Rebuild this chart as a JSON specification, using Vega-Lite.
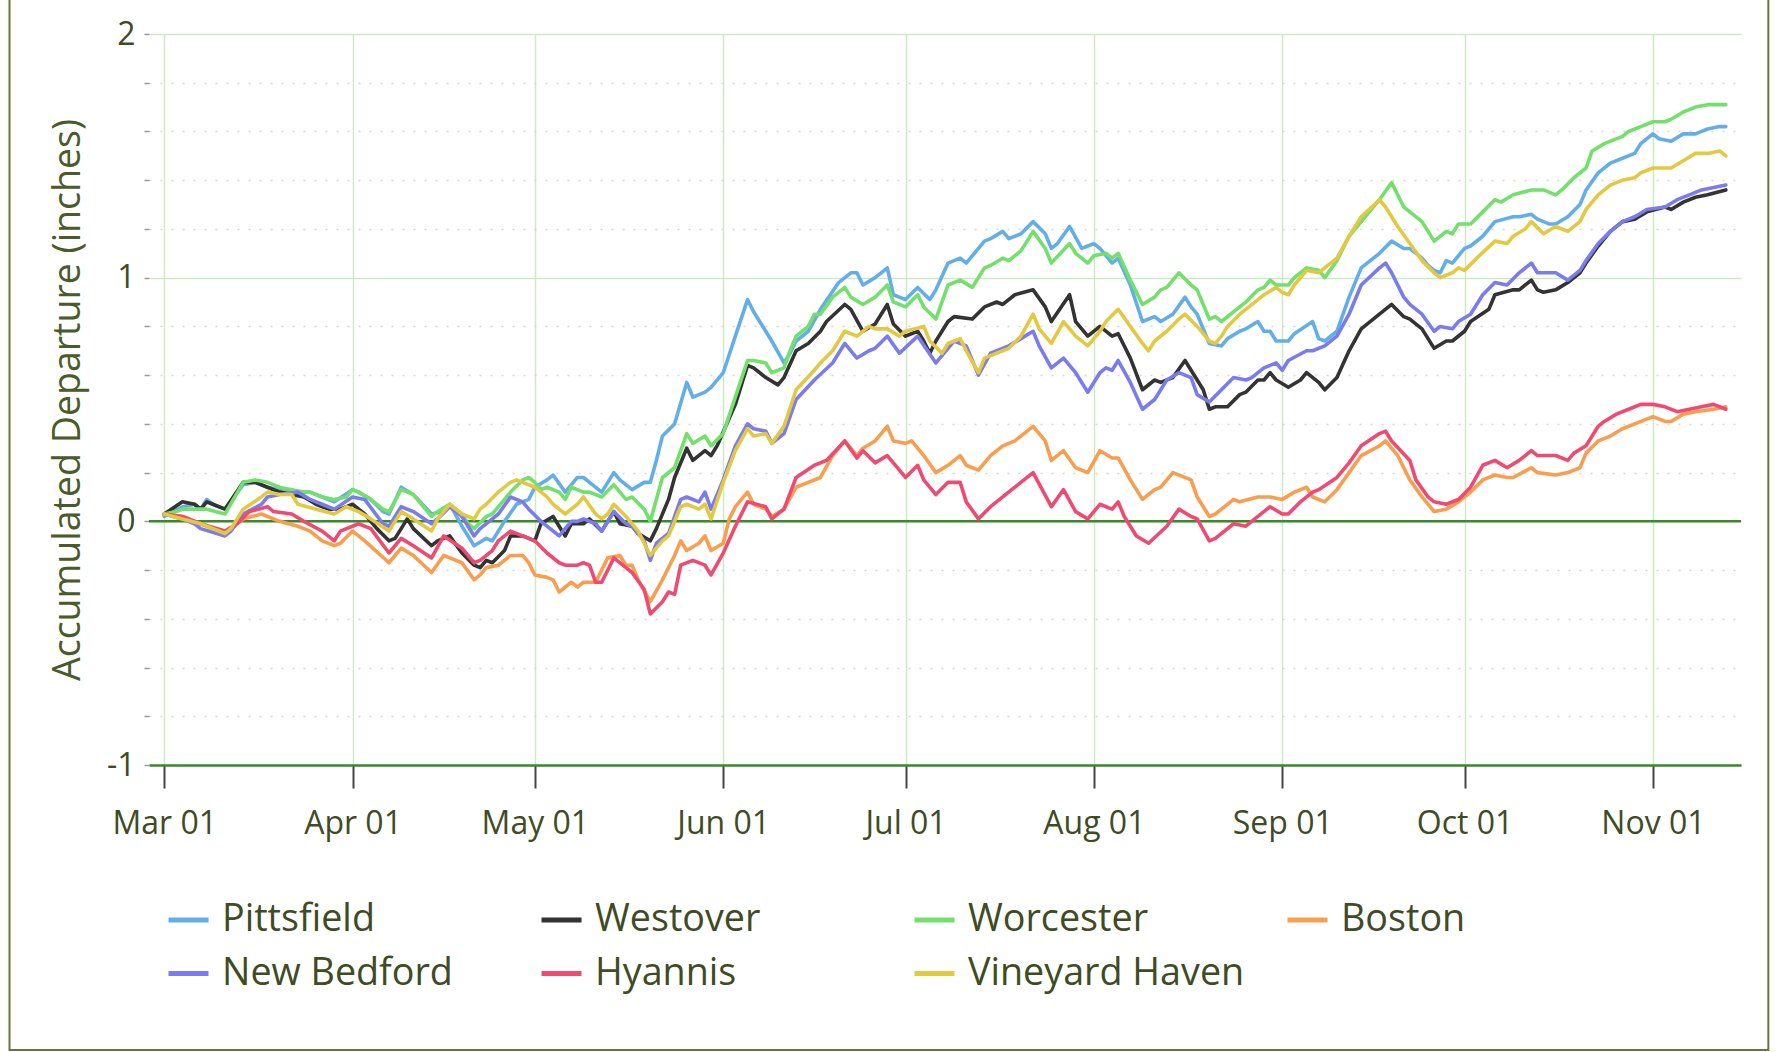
{
"$schema":"https://vega.github.io/schema/vega-lite/v6.json",
"width":1592,"height":731,
"autosize":{"type":"none"},
"padding":{"left":149,"top":34,"right":36,"bottom":287},
"background":"white",
"config":{"view":{"stroke":null},"font":"Open Sans"},
"data":{"values":[
{"station":"Pittsfield","date":"2023-03-01","value":0.02},{"station":"Pittsfield","date":"2023-03-04","value":0.06},{"station":"Pittsfield","date":"2023-03-06","value":0.07},{"station":"Pittsfield","date":"2023-03-07","value":0.05},{"station":"Pittsfield","date":"2023-03-08","value":0.09},{"station":"Pittsfield","date":"2023-03-09","value":0.07},{"station":"Pittsfield","date":"2023-03-11","value":0.05},{"station":"Pittsfield","date":"2023-03-14","value":0.15},{"station":"Pittsfield","date":"2023-03-16","value":0.16},{"station":"Pittsfield","date":"2023-03-18","value":0.14},{"station":"Pittsfield","date":"2023-03-20","value":0.13},{"station":"Pittsfield","date":"2023-03-22","value":0.12},{"station":"Pittsfield","date":"2023-03-25","value":0.12},{"station":"Pittsfield","date":"2023-03-27","value":0.10},{"station":"Pittsfield","date":"2023-03-29","value":0.08},{"station":"Pittsfield","date":"2023-04-01","value":0.13},{"station":"Pittsfield","date":"2023-04-02","value":0.12},{"station":"Pittsfield","date":"2023-04-04","value":0.09},{"station":"Pittsfield","date":"2023-04-06","value":0.04},{"station":"Pittsfield","date":"2023-04-07","value":0.03},{"station":"Pittsfield","date":"2023-04-09","value":0.14},{"station":"Pittsfield","date":"2023-04-11","value":0.11},{"station":"Pittsfield","date":"2023-04-14","value":0.03},{"station":"Pittsfield","date":"2023-04-16","value":0.04},{"station":"Pittsfield","date":"2023-04-17","value":0.07},{"station":"Pittsfield","date":"2023-04-19","value":-0.02},{"station":"Pittsfield","date":"2023-04-21","value":-0.10},{"station":"Pittsfield","date":"2023-04-23","value":-0.07},{"station":"Pittsfield","date":"2023-04-24","value":-0.08},{"station":"Pittsfield","date":"2023-04-26","value":0.00},{"station":"Pittsfield","date":"2023-04-28","value":0.07},{"station":"Pittsfield","date":"2023-04-30","value":0.09},{"station":"Pittsfield","date":"2023-05-01","value":0.14},{"station":"Pittsfield","date":"2023-05-03","value":0.17},{"station":"Pittsfield","date":"2023-05-04","value":0.19},{"station":"Pittsfield","date":"2023-05-06","value":0.12},{"station":"Pittsfield","date":"2023-05-08","value":0.18},{"station":"Pittsfield","date":"2023-05-09","value":0.18},{"station":"Pittsfield","date":"2023-05-10","value":0.16},{"station":"Pittsfield","date":"2023-05-12","value":0.12},{"station":"Pittsfield","date":"2023-05-14","value":0.20},{"station":"Pittsfield","date":"2023-05-15","value":0.17},{"station":"Pittsfield","date":"2023-05-17","value":0.13},{"station":"Pittsfield","date":"2023-05-19","value":0.16},{"station":"Pittsfield","date":"2023-05-20","value":0.16},{"station":"Pittsfield","date":"2023-05-21","value":0.25},{"station":"Pittsfield","date":"2023-05-22","value":0.35},{"station":"Pittsfield","date":"2023-05-24","value":0.40},{"station":"Pittsfield","date":"2023-05-26","value":0.57},{"station":"Pittsfield","date":"2023-05-27","value":0.51},{"station":"Pittsfield","date":"2023-05-29","value":0.53},{"station":"Pittsfield","date":"2023-05-30","value":0.55},{"station":"Pittsfield","date":"2023-06-01","value":0.61},{"station":"Pittsfield","date":"2023-06-03","value":0.76},{"station":"Pittsfield","date":"2023-06-05","value":0.91},{"station":"Pittsfield","date":"2023-06-06","value":0.86},{"station":"Pittsfield","date":"2023-06-07","value":0.82},{"station":"Pittsfield","date":"2023-06-09","value":0.74},{"station":"Pittsfield","date":"2023-06-11","value":0.65},{"station":"Pittsfield","date":"2023-06-12","value":0.69},{"station":"Pittsfield","date":"2023-06-13","value":0.74},{"station":"Pittsfield","date":"2023-06-15","value":0.78},{"station":"Pittsfield","date":"2023-06-17","value":0.87},{"station":"Pittsfield","date":"2023-06-20","value":0.98},{"station":"Pittsfield","date":"2023-06-22","value":1.02},{"station":"Pittsfield","date":"2023-06-23","value":1.02},{"station":"Pittsfield","date":"2023-06-24","value":0.97},{"station":"Pittsfield","date":"2023-06-26","value":1.00},{"station":"Pittsfield","date":"2023-06-27","value":1.02},{"station":"Pittsfield","date":"2023-06-28","value":1.04},{"station":"Pittsfield","date":"2023-06-29","value":0.93},{"station":"Pittsfield","date":"2023-07-01","value":0.91},{"station":"Pittsfield","date":"2023-07-03","value":0.96},{"station":"Pittsfield","date":"2023-07-05","value":0.91},{"station":"Pittsfield","date":"2023-07-06","value":0.95},{"station":"Pittsfield","date":"2023-07-08","value":1.06},{"station":"Pittsfield","date":"2023-07-10","value":1.08},{"station":"Pittsfield","date":"2023-07-11","value":1.06},{"station":"Pittsfield","date":"2023-07-14","value":1.15},{"station":"Pittsfield","date":"2023-07-15","value":1.16},{"station":"Pittsfield","date":"2023-07-17","value":1.19},{"station":"Pittsfield","date":"2023-07-18","value":1.16},{"station":"Pittsfield","date":"2023-07-20","value":1.18},{"station":"Pittsfield","date":"2023-07-22","value":1.23},{"station":"Pittsfield","date":"2023-07-24","value":1.18},{"station":"Pittsfield","date":"2023-07-25","value":1.12},{"station":"Pittsfield","date":"2023-07-26","value":1.14},{"station":"Pittsfield","date":"2023-07-28","value":1.21},{"station":"Pittsfield","date":"2023-07-30","value":1.12},{"station":"Pittsfield","date":"2023-07-31","value":1.13},{"station":"Pittsfield","date":"2023-08-01","value":1.14},{"station":"Pittsfield","date":"2023-08-02","value":1.12},{"station":"Pittsfield","date":"2023-08-04","value":1.06},{"station":"Pittsfield","date":"2023-08-05","value":1.08},{"station":"Pittsfield","date":"2023-08-07","value":0.97},{"station":"Pittsfield","date":"2023-08-09","value":0.82},{"station":"Pittsfield","date":"2023-08-11","value":0.84},{"station":"Pittsfield","date":"2023-08-12","value":0.82},{"station":"Pittsfield","date":"2023-08-14","value":0.85},{"station":"Pittsfield","date":"2023-08-16","value":0.92},{"station":"Pittsfield","date":"2023-08-17","value":0.88},{"station":"Pittsfield","date":"2023-08-18","value":0.85},{"station":"Pittsfield","date":"2023-08-20","value":0.73},{"station":"Pittsfield","date":"2023-08-22","value":0.72},{"station":"Pittsfield","date":"2023-08-23","value":0.75},{"station":"Pittsfield","date":"2023-08-25","value":0.78},{"station":"Pittsfield","date":"2023-08-26","value":0.79},{"station":"Pittsfield","date":"2023-08-28","value":0.82},{"station":"Pittsfield","date":"2023-08-29","value":0.78},{"station":"Pittsfield","date":"2023-08-30","value":0.78},{"station":"Pittsfield","date":"2023-08-31","value":0.74},{"station":"Pittsfield","date":"2023-09-02","value":0.74},{"station":"Pittsfield","date":"2023-09-03","value":0.77},{"station":"Pittsfield","date":"2023-09-06","value":0.82},{"station":"Pittsfield","date":"2023-09-07","value":0.75},{"station":"Pittsfield","date":"2023-09-08","value":0.74},{"station":"Pittsfield","date":"2023-09-10","value":0.78},{"station":"Pittsfield","date":"2023-09-12","value":0.92},{"station":"Pittsfield","date":"2023-09-14","value":1.04},{"station":"Pittsfield","date":"2023-09-17","value":1.10},{"station":"Pittsfield","date":"2023-09-19","value":1.15},{"station":"Pittsfield","date":"2023-09-21","value":1.12},{"station":"Pittsfield","date":"2023-09-22","value":1.12},{"station":"Pittsfield","date":"2023-09-24","value":1.08},{"station":"Pittsfield","date":"2023-09-25","value":1.05},{"station":"Pittsfield","date":"2023-09-26","value":1.03},{"station":"Pittsfield","date":"2023-09-27","value":1.02},{"station":"Pittsfield","date":"2023-09-28","value":1.07},{"station":"Pittsfield","date":"2023-09-29","value":1.06},{"station":"Pittsfield","date":"2023-10-01","value":1.12},{"station":"Pittsfield","date":"2023-10-02","value":1.13},{"station":"Pittsfield","date":"2023-10-04","value":1.17},{"station":"Pittsfield","date":"2023-10-06","value":1.23},{"station":"Pittsfield","date":"2023-10-09","value":1.25},{"station":"Pittsfield","date":"2023-10-10","value":1.25},{"station":"Pittsfield","date":"2023-10-12","value":1.26},{"station":"Pittsfield","date":"2023-10-13","value":1.24},{"station":"Pittsfield","date":"2023-10-15","value":1.22},{"station":"Pittsfield","date":"2023-10-16","value":1.22},{"station":"Pittsfield","date":"2023-10-18","value":1.25},{"station":"Pittsfield","date":"2023-10-20","value":1.30},{"station":"Pittsfield","date":"2023-10-21","value":1.36},{"station":"Pittsfield","date":"2023-10-23","value":1.43},{"station":"Pittsfield","date":"2023-10-25","value":1.47},{"station":"Pittsfield","date":"2023-10-27","value":1.49},{"station":"Pittsfield","date":"2023-10-29","value":1.51},{"station":"Pittsfield","date":"2023-10-30","value":1.55},{"station":"Pittsfield","date":"2023-11-01","value":1.59},{"station":"Pittsfield","date":"2023-11-02","value":1.57},{"station":"Pittsfield","date":"2023-11-04","value":1.56},{"station":"Pittsfield","date":"2023-11-06","value":1.59},{"station":"Pittsfield","date":"2023-11-08","value":1.59},{"station":"Pittsfield","date":"2023-11-10","value":1.61},{"station":"Pittsfield","date":"2023-11-12","value":1.62},{"station":"Pittsfield","date":"2023-11-13","value":1.62},
{"station":"Westover","date":"2023-03-01","value":0.03},{"station":"Westover","date":"2023-03-04","value":0.08},{"station":"Westover","date":"2023-03-06","value":0.07},{"station":"Westover","date":"2023-03-07","value":0.05},{"station":"Westover","date":"2023-03-08","value":0.08},{"station":"Westover","date":"2023-03-09","value":0.07},{"station":"Westover","date":"2023-03-11","value":0.05},{"station":"Westover","date":"2023-03-14","value":0.16},{"station":"Westover","date":"2023-03-16","value":0.16},{"station":"Westover","date":"2023-03-18","value":0.14},{"station":"Westover","date":"2023-03-20","value":0.12},{"station":"Westover","date":"2023-03-22","value":0.11},{"station":"Westover","date":"2023-03-24","value":0.10},{"station":"Westover","date":"2023-03-26","value":0.07},{"station":"Westover","date":"2023-03-28","value":0.05},{"station":"Westover","date":"2023-03-30","value":0.05},{"station":"Westover","date":"2023-04-01","value":0.07},{"station":"Westover","date":"2023-04-03","value":0.03},{"station":"Westover","date":"2023-04-05","value":-0.03},{"station":"Westover","date":"2023-04-07","value":-0.08},{"station":"Westover","date":"2023-04-08","value":-0.07},{"station":"Westover","date":"2023-04-10","value":0.01},{"station":"Westover","date":"2023-04-11","value":-0.03},{"station":"Westover","date":"2023-04-14","value":-0.10},{"station":"Westover","date":"2023-04-15","value":-0.08},{"station":"Westover","date":"2023-04-17","value":-0.06},{"station":"Westover","date":"2023-04-19","value":-0.13},{"station":"Westover","date":"2023-04-21","value":-0.18},{"station":"Westover","date":"2023-04-22","value":-0.19},{"station":"Westover","date":"2023-04-23","value":-0.16},{"station":"Westover","date":"2023-04-24","value":-0.17},{"station":"Westover","date":"2023-04-26","value":-0.12},{"station":"Westover","date":"2023-04-27","value":-0.06},{"station":"Westover","date":"2023-04-29","value":-0.06},{"station":"Westover","date":"2023-05-01","value":-0.08},{"station":"Westover","date":"2023-05-02","value":-0.01},{"station":"Westover","date":"2023-05-04","value":0.02},{"station":"Westover","date":"2023-05-05","value":-0.02},{"station":"Westover","date":"2023-05-06","value":-0.06},{"station":"Westover","date":"2023-05-07","value":-0.01},{"station":"Westover","date":"2023-05-09","value":-0.01},{"station":"Westover","date":"2023-05-10","value":0.01},{"station":"Westover","date":"2023-05-12","value":-0.04},{"station":"Westover","date":"2023-05-14","value":0.04},{"station":"Westover","date":"2023-05-15","value":-0.01},{"station":"Westover","date":"2023-05-17","value":-0.02},{"station":"Westover","date":"2023-05-18","value":-0.05},{"station":"Westover","date":"2023-05-20","value":-0.08},{"station":"Westover","date":"2023-05-21","value":-0.03},{"station":"Westover","date":"2023-05-23","value":0.09},{"station":"Westover","date":"2023-05-24","value":0.18},{"station":"Westover","date":"2023-05-26","value":0.30},{"station":"Westover","date":"2023-05-27","value":0.25},{"station":"Westover","date":"2023-05-29","value":0.29},{"station":"Westover","date":"2023-05-30","value":0.27},{"station":"Westover","date":"2023-05-31","value":0.31},{"station":"Westover","date":"2023-06-03","value":0.48},{"station":"Westover","date":"2023-06-05","value":0.64},{"station":"Westover","date":"2023-06-06","value":0.63},{"station":"Westover","date":"2023-06-08","value":0.59},{"station":"Westover","date":"2023-06-10","value":0.56},{"station":"Westover","date":"2023-06-11","value":0.59},{"station":"Westover","date":"2023-06-13","value":0.70},{"station":"Westover","date":"2023-06-15","value":0.73},{"station":"Westover","date":"2023-06-17","value":0.78},{"station":"Westover","date":"2023-06-18","value":0.82},{"station":"Westover","date":"2023-06-21","value":0.89},{"station":"Westover","date":"2023-06-22","value":0.87},{"station":"Westover","date":"2023-06-24","value":0.78},{"station":"Westover","date":"2023-06-26","value":0.81},{"station":"Westover","date":"2023-06-28","value":0.89},{"station":"Westover","date":"2023-06-29","value":0.81},{"station":"Westover","date":"2023-07-01","value":0.76},{"station":"Westover","date":"2023-07-03","value":0.78},{"station":"Westover","date":"2023-07-04","value":0.74},{"station":"Westover","date":"2023-07-05","value":0.69},{"station":"Westover","date":"2023-07-06","value":0.74},{"station":"Westover","date":"2023-07-08","value":0.82},{"station":"Westover","date":"2023-07-09","value":0.84},{"station":"Westover","date":"2023-07-12","value":0.83},{"station":"Westover","date":"2023-07-14","value":0.88},{"station":"Westover","date":"2023-07-16","value":0.90},{"station":"Westover","date":"2023-07-17","value":0.89},{"station":"Westover","date":"2023-07-19","value":0.93},{"station":"Westover","date":"2023-07-22","value":0.95},{"station":"Westover","date":"2023-07-24","value":0.88},{"station":"Westover","date":"2023-07-25","value":0.82},{"station":"Westover","date":"2023-07-28","value":0.93},{"station":"Westover","date":"2023-07-29","value":0.82},{"station":"Westover","date":"2023-07-31","value":0.76},{"station":"Westover","date":"2023-08-02","value":0.80},{"station":"Westover","date":"2023-08-04","value":0.76},{"station":"Westover","date":"2023-08-05","value":0.77},{"station":"Westover","date":"2023-08-07","value":0.67},{"station":"Westover","date":"2023-08-09","value":0.54},{"station":"Westover","date":"2023-08-11","value":0.58},{"station":"Westover","date":"2023-08-12","value":0.57},{"station":"Westover","date":"2023-08-14","value":0.59},{"station":"Westover","date":"2023-08-16","value":0.66},{"station":"Westover","date":"2023-08-17","value":0.62},{"station":"Westover","date":"2023-08-19","value":0.54},{"station":"Westover","date":"2023-08-20","value":0.46},{"station":"Westover","date":"2023-08-21","value":0.47},{"station":"Westover","date":"2023-08-23","value":0.47},{"station":"Westover","date":"2023-08-25","value":0.52},{"station":"Westover","date":"2023-08-26","value":0.53},{"station":"Westover","date":"2023-08-28","value":0.58},{"station":"Westover","date":"2023-08-29","value":0.58},{"station":"Westover","date":"2023-08-30","value":0.61},{"station":"Westover","date":"2023-08-31","value":0.58},{"station":"Westover","date":"2023-09-02","value":0.55},{"station":"Westover","date":"2023-09-04","value":0.58},{"station":"Westover","date":"2023-09-05","value":0.61},{"station":"Westover","date":"2023-09-07","value":0.57},{"station":"Westover","date":"2023-09-08","value":0.54},{"station":"Westover","date":"2023-09-10","value":0.59},{"station":"Westover","date":"2023-09-12","value":0.70},{"station":"Westover","date":"2023-09-14","value":0.79},{"station":"Westover","date":"2023-09-17","value":0.85},{"station":"Westover","date":"2023-09-19","value":0.89},{"station":"Westover","date":"2023-09-21","value":0.84},{"station":"Westover","date":"2023-09-22","value":0.83},{"station":"Westover","date":"2023-09-24","value":0.79},{"station":"Westover","date":"2023-09-26","value":0.71},{"station":"Westover","date":"2023-09-28","value":0.74},{"station":"Westover","date":"2023-09-29","value":0.74},{"station":"Westover","date":"2023-10-01","value":0.78},{"station":"Westover","date":"2023-10-02","value":0.82},{"station":"Westover","date":"2023-10-05","value":0.87},{"station":"Westover","date":"2023-10-06","value":0.93},{"station":"Westover","date":"2023-10-09","value":0.95},{"station":"Westover","date":"2023-10-10","value":0.95},{"station":"Westover","date":"2023-10-12","value":0.99},{"station":"Westover","date":"2023-10-13","value":0.95},{"station":"Westover","date":"2023-10-14","value":0.94},{"station":"Westover","date":"2023-10-16","value":0.95},{"station":"Westover","date":"2023-10-18","value":0.98},{"station":"Westover","date":"2023-10-20","value":1.02},{"station":"Westover","date":"2023-10-21","value":1.06},{"station":"Westover","date":"2023-10-23","value":1.13},{"station":"Westover","date":"2023-10-25","value":1.19},{"station":"Westover","date":"2023-10-27","value":1.23},{"station":"Westover","date":"2023-10-29","value":1.24},{"station":"Westover","date":"2023-10-31","value":1.27},{"station":"Westover","date":"2023-11-03","value":1.29},{"station":"Westover","date":"2023-11-04","value":1.28},{"station":"Westover","date":"2023-11-06","value":1.31},{"station":"Westover","date":"2023-11-08","value":1.33},{"station":"Westover","date":"2023-11-10","value":1.34},{"station":"Westover","date":"2023-11-13","value":1.36},
{"station":"Worcester","date":"2023-03-01","value":0.03},{"station":"Worcester","date":"2023-03-03","value":0.04},{"station":"Worcester","date":"2023-03-04","value":0.05},{"station":"Worcester","date":"2023-03-07","value":0.05},{"station":"Worcester","date":"2023-03-08","value":0.05},{"station":"Worcester","date":"2023-03-11","value":0.03},{"station":"Worcester","date":"2023-03-14","value":0.16},{"station":"Worcester","date":"2023-03-16","value":0.17},{"station":"Worcester","date":"2023-03-18","value":0.16},{"station":"Worcester","date":"2023-03-20","value":0.14},{"station":"Worcester","date":"2023-03-22","value":0.13},{"station":"Worcester","date":"2023-03-24","value":0.12},{"station":"Worcester","date":"2023-03-25","value":0.12},{"station":"Worcester","date":"2023-03-27","value":0.10},{"station":"Worcester","date":"2023-03-29","value":0.09},{"station":"Worcester","date":"2023-03-31","value":0.10},{"station":"Worcester","date":"2023-04-01","value":0.13},{"station":"Worcester","date":"2023-04-02","value":0.12},{"station":"Worcester","date":"2023-04-04","value":0.09},{"station":"Worcester","date":"2023-04-06","value":0.05},{"station":"Worcester","date":"2023-04-07","value":0.04},{"station":"Worcester","date":"2023-04-09","value":0.13},{"station":"Worcester","date":"2023-04-11","value":0.11},{"station":"Worcester","date":"2023-04-13","value":0.05},{"station":"Worcester","date":"2023-04-14","value":0.02},{"station":"Worcester","date":"2023-04-15","value":0.04},{"station":"Worcester","date":"2023-04-17","value":0.07},{"station":"Worcester","date":"2023-04-19","value":0.03},{"station":"Worcester","date":"2023-04-20","value":-0.01},{"station":"Worcester","date":"2023-04-21","value":-0.03},{"station":"Worcester","date":"2023-04-23","value":0.02},{"station":"Worcester","date":"2023-04-24","value":0.03},{"station":"Worcester","date":"2023-04-27","value":0.12},{"station":"Worcester","date":"2023-04-29","value":0.17},{"station":"Worcester","date":"2023-04-30","value":0.18},{"station":"Worcester","date":"2023-05-01","value":0.16},{"station":"Worcester","date":"2023-05-02","value":0.13},{"station":"Worcester","date":"2023-05-03","value":0.14},{"station":"Worcester","date":"2023-05-05","value":0.12},{"station":"Worcester","date":"2023-05-06","value":0.09},{"station":"Worcester","date":"2023-05-07","value":0.14},{"station":"Worcester","date":"2023-05-09","value":0.12},{"station":"Worcester","date":"2023-05-10","value":0.12},{"station":"Worcester","date":"2023-05-12","value":0.10},{"station":"Worcester","date":"2023-05-14","value":0.15},{"station":"Worcester","date":"2023-05-16","value":0.09},{"station":"Worcester","date":"2023-05-17","value":0.10},{"station":"Worcester","date":"2023-05-19","value":0.05},{"station":"Worcester","date":"2023-05-20","value":0.00},{"station":"Worcester","date":"2023-05-22","value":0.18},{"station":"Worcester","date":"2023-05-24","value":0.22},{"station":"Worcester","date":"2023-05-26","value":0.36},{"station":"Worcester","date":"2023-05-27","value":0.32},{"station":"Worcester","date":"2023-05-29","value":0.35},{"station":"Worcester","date":"2023-05-30","value":0.31},{"station":"Worcester","date":"2023-06-01","value":0.36},{"station":"Worcester","date":"2023-06-05","value":0.66},{"station":"Worcester","date":"2023-06-06","value":0.66},{"station":"Worcester","date":"2023-06-08","value":0.65},{"station":"Worcester","date":"2023-06-09","value":0.61},{"station":"Worcester","date":"2023-06-11","value":0.63},{"station":"Worcester","date":"2023-06-12","value":0.70},{"station":"Worcester","date":"2023-06-13","value":0.76},{"station":"Worcester","date":"2023-06-15","value":0.80},{"station":"Worcester","date":"2023-06-16","value":0.85},{"station":"Worcester","date":"2023-06-17","value":0.85},{"station":"Worcester","date":"2023-06-19","value":0.92},{"station":"Worcester","date":"2023-06-21","value":0.96},{"station":"Worcester","date":"2023-06-22","value":0.92},{"station":"Worcester","date":"2023-06-24","value":0.89},{"station":"Worcester","date":"2023-06-26","value":0.92},{"station":"Worcester","date":"2023-06-28","value":0.97},{"station":"Worcester","date":"2023-06-29","value":0.90},{"station":"Worcester","date":"2023-07-01","value":0.88},{"station":"Worcester","date":"2023-07-03","value":0.93},{"station":"Worcester","date":"2023-07-04","value":0.88},{"station":"Worcester","date":"2023-07-06","value":0.83},{"station":"Worcester","date":"2023-07-08","value":0.97},{"station":"Worcester","date":"2023-07-10","value":0.99},{"station":"Worcester","date":"2023-07-12","value":0.96},{"station":"Worcester","date":"2023-07-14","value":1.04},{"station":"Worcester","date":"2023-07-15","value":1.05},{"station":"Worcester","date":"2023-07-17","value":1.08},{"station":"Worcester","date":"2023-07-18","value":1.07},{"station":"Worcester","date":"2023-07-20","value":1.11},{"station":"Worcester","date":"2023-07-22","value":1.19},{"station":"Worcester","date":"2023-07-24","value":1.12},{"station":"Worcester","date":"2023-07-25","value":1.06},{"station":"Worcester","date":"2023-07-28","value":1.14},{"station":"Worcester","date":"2023-07-29","value":1.10},{"station":"Worcester","date":"2023-07-31","value":1.06},{"station":"Worcester","date":"2023-08-01","value":1.09},{"station":"Worcester","date":"2023-08-03","value":1.10},{"station":"Worcester","date":"2023-08-04","value":1.08},{"station":"Worcester","date":"2023-08-05","value":1.10},{"station":"Worcester","date":"2023-08-07","value":0.99},{"station":"Worcester","date":"2023-08-09","value":0.89},{"station":"Worcester","date":"2023-08-11","value":0.92},{"station":"Worcester","date":"2023-08-12","value":0.95},{"station":"Worcester","date":"2023-08-13","value":0.96},{"station":"Worcester","date":"2023-08-15","value":1.02},{"station":"Worcester","date":"2023-08-17","value":0.97},{"station":"Worcester","date":"2023-08-18","value":0.95},{"station":"Worcester","date":"2023-08-20","value":0.83},{"station":"Worcester","date":"2023-08-21","value":0.84},{"station":"Worcester","date":"2023-08-22","value":0.82},{"station":"Worcester","date":"2023-08-25","value":0.88},{"station":"Worcester","date":"2023-08-26","value":0.90},{"station":"Worcester","date":"2023-08-28","value":0.95},{"station":"Worcester","date":"2023-08-29","value":0.96},{"station":"Worcester","date":"2023-08-30","value":0.99},{"station":"Worcester","date":"2023-08-31","value":0.97},{"station":"Worcester","date":"2023-09-02","value":0.97},{"station":"Worcester","date":"2023-09-03","value":1.00},{"station":"Worcester","date":"2023-09-05","value":1.04},{"station":"Worcester","date":"2023-09-07","value":1.03},{"station":"Worcester","date":"2023-09-08","value":1.00},{"station":"Worcester","date":"2023-09-10","value":1.07},{"station":"Worcester","date":"2023-09-12","value":1.17},{"station":"Worcester","date":"2023-09-14","value":1.23},{"station":"Worcester","date":"2023-09-17","value":1.32},{"station":"Worcester","date":"2023-09-19","value":1.39},{"station":"Worcester","date":"2023-09-21","value":1.29},{"station":"Worcester","date":"2023-09-22","value":1.27},{"station":"Worcester","date":"2023-09-24","value":1.23},{"station":"Worcester","date":"2023-09-26","value":1.15},{"station":"Worcester","date":"2023-09-28","value":1.19},{"station":"Worcester","date":"2023-09-29","value":1.18},{"station":"Worcester","date":"2023-09-30","value":1.22},{"station":"Worcester","date":"2023-10-02","value":1.22},{"station":"Worcester","date":"2023-10-04","value":1.27},{"station":"Worcester","date":"2023-10-06","value":1.32},{"station":"Worcester","date":"2023-10-07","value":1.31},{"station":"Worcester","date":"2023-10-09","value":1.34},{"station":"Worcester","date":"2023-10-12","value":1.36},{"station":"Worcester","date":"2023-10-14","value":1.36},{"station":"Worcester","date":"2023-10-16","value":1.34},{"station":"Worcester","date":"2023-10-17","value":1.36},{"station":"Worcester","date":"2023-10-19","value":1.41},{"station":"Worcester","date":"2023-10-21","value":1.45},{"station":"Worcester","date":"2023-10-22","value":1.52},{"station":"Worcester","date":"2023-10-24","value":1.55},{"station":"Worcester","date":"2023-10-27","value":1.58},{"station":"Worcester","date":"2023-10-28","value":1.60},{"station":"Worcester","date":"2023-10-30","value":1.62},{"station":"Worcester","date":"2023-11-01","value":1.64},{"station":"Worcester","date":"2023-11-03","value":1.64},{"station":"Worcester","date":"2023-11-04","value":1.65},{"station":"Worcester","date":"2023-11-06","value":1.68},{"station":"Worcester","date":"2023-11-08","value":1.70},{"station":"Worcester","date":"2023-11-10","value":1.71},{"station":"Worcester","date":"2023-11-13","value":1.71},
{"station":"Boston","date":"2023-03-01","value":0.03},{"station":"Boston","date":"2023-03-04","value":0.02},{"station":"Boston","date":"2023-03-07","value":-0.01},{"station":"Boston","date":"2023-03-11","value":-0.05},{"station":"Boston","date":"2023-03-14","value":0.01},{"station":"Boston","date":"2023-03-17","value":0.03},{"station":"Boston","date":"2023-03-18","value":0.02},{"station":"Boston","date":"2023-03-20","value":0.00},{"station":"Boston","date":"2023-03-23","value":-0.02},{"station":"Boston","date":"2023-03-25","value":-0.04},{"station":"Boston","date":"2023-03-27","value":-0.08},{"station":"Boston","date":"2023-03-29","value":-0.10},{"station":"Boston","date":"2023-03-30","value":-0.09},{"station":"Boston","date":"2023-04-01","value":-0.04},{"station":"Boston","date":"2023-04-03","value":-0.08},{"station":"Boston","date":"2023-04-07","value":-0.17},{"station":"Boston","date":"2023-04-09","value":-0.11},{"station":"Boston","date":"2023-04-11","value":-0.14},{"station":"Boston","date":"2023-04-14","value":-0.21},{"station":"Boston","date":"2023-04-16","value":-0.14},{"station":"Boston","date":"2023-04-19","value":-0.17},{"station":"Boston","date":"2023-04-21","value":-0.24},{"station":"Boston","date":"2023-04-22","value":-0.22},{"station":"Boston","date":"2023-04-23","value":-0.19},{"station":"Boston","date":"2023-04-25","value":-0.18},{"station":"Boston","date":"2023-04-27","value":-0.14},{"station":"Boston","date":"2023-04-29","value":-0.14},{"station":"Boston","date":"2023-04-30","value":-0.17},{"station":"Boston","date":"2023-05-01","value":-0.22},{"station":"Boston","date":"2023-05-03","value":-0.23},{"station":"Boston","date":"2023-05-04","value":-0.24},{"station":"Boston","date":"2023-05-05","value":-0.29},{"station":"Boston","date":"2023-05-07","value":-0.25},{"station":"Boston","date":"2023-05-08","value":-0.27},{"station":"Boston","date":"2023-05-09","value":-0.25},{"station":"Boston","date":"2023-05-11","value":-0.25},{"station":"Boston","date":"2023-05-12","value":-0.20},{"station":"Boston","date":"2023-05-13","value":-0.15},{"station":"Boston","date":"2023-05-15","value":-0.14},{"station":"Boston","date":"2023-05-16","value":-0.18},{"station":"Boston","date":"2023-05-17","value":-0.18},{"station":"Boston","date":"2023-05-18","value":-0.24},{"station":"Boston","date":"2023-05-20","value":-0.33},{"station":"Boston","date":"2023-05-22","value":-0.24},{"station":"Boston","date":"2023-05-23","value":-0.19},{"station":"Boston","date":"2023-05-24","value":-0.14},{"station":"Boston","date":"2023-05-25","value":-0.08},{"station":"Boston","date":"2023-05-26","value":-0.12},{"station":"Boston","date":"2023-05-28","value":-0.09},{"station":"Boston","date":"2023-05-29","value":-0.06},{"station":"Boston","date":"2023-05-30","value":-0.12},{"station":"Boston","date":"2023-06-01","value":-0.09},{"station":"Boston","date":"2023-06-02","value":0.01},{"station":"Boston","date":"2023-06-03","value":0.06},{"station":"Boston","date":"2023-06-05","value":0.12},{"station":"Boston","date":"2023-06-06","value":0.07},{"station":"Boston","date":"2023-06-08","value":0.05},{"station":"Boston","date":"2023-06-09","value":0.02},{"station":"Boston","date":"2023-06-11","value":0.05},{"station":"Boston","date":"2023-06-13","value":0.14},{"station":"Boston","date":"2023-06-15","value":0.16},{"station":"Boston","date":"2023-06-17","value":0.18},{"station":"Boston","date":"2023-06-19","value":0.27},{"station":"Boston","date":"2023-06-21","value":0.33},{"station":"Boston","date":"2023-06-23","value":0.27},{"station":"Boston","date":"2023-06-24","value":0.30},{"station":"Boston","date":"2023-06-26","value":0.33},{"station":"Boston","date":"2023-06-28","value":0.39},{"station":"Boston","date":"2023-06-29","value":0.33},{"station":"Boston","date":"2023-07-01","value":0.32},{"station":"Boston","date":"2023-07-02","value":0.33},{"station":"Boston","date":"2023-07-04","value":0.27},{"station":"Boston","date":"2023-07-06","value":0.20},{"station":"Boston","date":"2023-07-08","value":0.23},{"station":"Boston","date":"2023-07-10","value":0.27},{"station":"Boston","date":"2023-07-11","value":0.23},{"station":"Boston","date":"2023-07-13","value":0.21},{"station":"Boston","date":"2023-07-15","value":0.27},{"station":"Boston","date":"2023-07-17","value":0.31},{"station":"Boston","date":"2023-07-19","value":0.33},{"station":"Boston","date":"2023-07-22","value":0.39},{"station":"Boston","date":"2023-07-24","value":0.33},{"station":"Boston","date":"2023-07-25","value":0.25},{"station":"Boston","date":"2023-07-27","value":0.29},{"station":"Boston","date":"2023-07-29","value":0.22},{"station":"Boston","date":"2023-07-31","value":0.20},{"station":"Boston","date":"2023-08-02","value":0.29},{"station":"Boston","date":"2023-08-04","value":0.26},{"station":"Boston","date":"2023-08-05","value":0.26},{"station":"Boston","date":"2023-08-07","value":0.17},{"station":"Boston","date":"2023-08-09","value":0.09},{"station":"Boston","date":"2023-08-11","value":0.13},{"station":"Boston","date":"2023-08-12","value":0.14},{"station":"Boston","date":"2023-08-14","value":0.20},{"station":"Boston","date":"2023-08-17","value":0.17},{"station":"Boston","date":"2023-08-18","value":0.10},{"station":"Boston","date":"2023-08-20","value":0.02},{"station":"Boston","date":"2023-08-21","value":0.03},{"station":"Boston","date":"2023-08-24","value":0.09},{"station":"Boston","date":"2023-08-25","value":0.08},{"station":"Boston","date":"2023-08-28","value":0.10},{"station":"Boston","date":"2023-08-30","value":0.10},{"station":"Boston","date":"2023-09-01","value":0.09},{"station":"Boston","date":"2023-09-03","value":0.12},{"station":"Boston","date":"2023-09-05","value":0.14},{"station":"Boston","date":"2023-09-06","value":0.10},{"station":"Boston","date":"2023-09-08","value":0.08},{"station":"Boston","date":"2023-09-10","value":0.13},{"station":"Boston","date":"2023-09-12","value":0.20},{"station":"Boston","date":"2023-09-14","value":0.27},{"station":"Boston","date":"2023-09-17","value":0.31},{"station":"Boston","date":"2023-09-18","value":0.33},{"station":"Boston","date":"2023-09-20","value":0.27},{"station":"Boston","date":"2023-09-22","value":0.17},{"station":"Boston","date":"2023-09-24","value":0.10},{"station":"Boston","date":"2023-09-26","value":0.04},{"station":"Boston","date":"2023-09-28","value":0.05},{"station":"Boston","date":"2023-09-30","value":0.08},{"station":"Boston","date":"2023-10-02","value":0.12},{"station":"Boston","date":"2023-10-04","value":0.17},{"station":"Boston","date":"2023-10-06","value":0.19},{"station":"Boston","date":"2023-10-08","value":0.18},{"station":"Boston","date":"2023-10-09","value":0.18},{"station":"Boston","date":"2023-10-12","value":0.22},{"station":"Boston","date":"2023-10-13","value":0.20},{"station":"Boston","date":"2023-10-16","value":0.19},{"station":"Boston","date":"2023-10-18","value":0.20},{"station":"Boston","date":"2023-10-20","value":0.22},{"station":"Boston","date":"2023-10-21","value":0.28},{"station":"Boston","date":"2023-10-23","value":0.33},{"station":"Boston","date":"2023-10-25","value":0.35},{"station":"Boston","date":"2023-10-27","value":0.38},{"station":"Boston","date":"2023-10-29","value":0.40},{"station":"Boston","date":"2023-11-01","value":0.43},{"station":"Boston","date":"2023-11-03","value":0.41},{"station":"Boston","date":"2023-11-04","value":0.41},{"station":"Boston","date":"2023-11-06","value":0.44},{"station":"Boston","date":"2023-11-08","value":0.45},{"station":"Boston","date":"2023-11-11","value":0.46},{"station":"Boston","date":"2023-11-13","value":0.47},
{"station":"New Bedford","date":"2023-03-01","value":0.03},{"station":"New Bedford","date":"2023-03-04","value":0.01},{"station":"New Bedford","date":"2023-03-06","value":-0.01},{"station":"New Bedford","date":"2023-03-07","value":-0.03},{"station":"New Bedford","date":"2023-03-11","value":-0.06},{"station":"New Bedford","date":"2023-03-12","value":-0.04},{"station":"New Bedford","date":"2023-03-14","value":0.03},{"station":"New Bedford","date":"2023-03-17","value":0.07},{"station":"New Bedford","date":"2023-03-18","value":0.10},{"station":"New Bedford","date":"2023-03-20","value":0.11},{"station":"New Bedford","date":"2023-03-23","value":0.12},{"station":"New Bedford","date":"2023-03-25","value":0.09},{"station":"New Bedford","date":"2023-03-27","value":0.07},{"station":"New Bedford","date":"2023-03-29","value":0.05},{"station":"New Bedford","date":"2023-04-01","value":0.10},{"station":"New Bedford","date":"2023-04-03","value":0.09},{"station":"New Bedford","date":"2023-04-06","value":-0.01},{"station":"New Bedford","date":"2023-04-07","value":-0.02},{"station":"New Bedford","date":"2023-04-09","value":0.06},{"station":"New Bedford","date":"2023-04-11","value":0.04},{"station":"New Bedford","date":"2023-04-14","value":-0.01},{"station":"New Bedford","date":"2023-04-15","value":0.01},{"station":"New Bedford","date":"2023-04-17","value":0.06},{"station":"New Bedford","date":"2023-04-19","value":0.02},{"station":"New Bedford","date":"2023-04-21","value":-0.06},{"station":"New Bedford","date":"2023-04-22","value":-0.03},{"station":"New Bedford","date":"2023-04-24","value":0.01},{"station":"New Bedford","date":"2023-04-25","value":0.03},{"station":"New Bedford","date":"2023-04-27","value":0.10},{"station":"New Bedford","date":"2023-04-29","value":0.08},{"station":"New Bedford","date":"2023-04-30","value":0.05},{"station":"New Bedford","date":"2023-05-02","value":0.00},{"station":"New Bedford","date":"2023-05-03","value":-0.02},{"station":"New Bedford","date":"2023-05-05","value":-0.06},{"station":"New Bedford","date":"2023-05-07","value":0.00},{"station":"New Bedford","date":"2023-05-08","value":0.00},{"station":"New Bedford","date":"2023-05-09","value":0.01},{"station":"New Bedford","date":"2023-05-11","value":-0.01},{"station":"New Bedford","date":"2023-05-12","value":-0.04},{"station":"New Bedford","date":"2023-05-14","value":0.04},{"station":"New Bedford","date":"2023-05-16","value":-0.01},{"station":"New Bedford","date":"2023-05-17","value":-0.02},{"station":"New Bedford","date":"2023-05-19","value":-0.08},{"station":"New Bedford","date":"2023-05-20","value":-0.16},{"station":"New Bedford","date":"2023-05-21","value":-0.09},{"station":"New Bedford","date":"2023-05-23","value":-0.05},{"station":"New Bedford","date":"2023-05-25","value":0.09},{"station":"New Bedford","date":"2023-05-26","value":0.10},{"station":"New Bedford","date":"2023-05-28","value":0.08},{"station":"New Bedford","date":"2023-05-29","value":0.12},{"station":"New Bedford","date":"2023-05-30","value":0.05},{"station":"New Bedford","date":"2023-06-01","value":0.17},{"station":"New Bedford","date":"2023-06-03","value":0.31},{"station":"New Bedford","date":"2023-06-05","value":0.40},{"station":"New Bedford","date":"2023-06-06","value":0.38},{"station":"New Bedford","date":"2023-06-08","value":0.37},{"station":"New Bedford","date":"2023-06-09","value":0.32},{"station":"New Bedford","date":"2023-06-11","value":0.36},{"station":"New Bedford","date":"2023-06-13","value":0.50},{"station":"New Bedford","date":"2023-06-16","value":0.58},{"station":"New Bedford","date":"2023-06-19","value":0.65},{"station":"New Bedford","date":"2023-06-21","value":0.73},{"station":"New Bedford","date":"2023-06-23","value":0.67},{"station":"New Bedford","date":"2023-06-25","value":0.70},{"station":"New Bedford","date":"2023-06-26","value":0.71},{"station":"New Bedford","date":"2023-06-28","value":0.76},{"station":"New Bedford","date":"2023-06-30","value":0.69},{"station":"New Bedford","date":"2023-07-03","value":0.76},{"station":"New Bedford","date":"2023-07-06","value":0.65},{"station":"New Bedford","date":"2023-07-09","value":0.74},{"station":"New Bedford","date":"2023-07-11","value":0.72},{"station":"New Bedford","date":"2023-07-13","value":0.60},{"station":"New Bedford","date":"2023-07-15","value":0.69},{"station":"New Bedford","date":"2023-07-18","value":0.72},{"station":"New Bedford","date":"2023-07-20","value":0.75},{"station":"New Bedford","date":"2023-07-22","value":0.78},{"station":"New Bedford","date":"2023-07-23","value":0.72},{"station":"New Bedford","date":"2023-07-25","value":0.63},{"station":"New Bedford","date":"2023-07-27","value":0.67},{"station":"New Bedford","date":"2023-07-29","value":0.61},{"station":"New Bedford","date":"2023-07-31","value":0.53},{"station":"New Bedford","date":"2023-08-02","value":0.61},{"station":"New Bedford","date":"2023-08-03","value":0.63},{"station":"New Bedford","date":"2023-08-04","value":0.62},{"station":"New Bedford","date":"2023-08-05","value":0.66},{"station":"New Bedford","date":"2023-08-07","value":0.57},{"station":"New Bedford","date":"2023-08-09","value":0.46},{"station":"New Bedford","date":"2023-08-11","value":0.50},{"station":"New Bedford","date":"2023-08-13","value":0.58},{"station":"New Bedford","date":"2023-08-15","value":0.61},{"station":"New Bedford","date":"2023-08-17","value":0.59},{"station":"New Bedford","date":"2023-08-18","value":0.52},{"station":"New Bedford","date":"2023-08-20","value":0.49},{"station":"New Bedford","date":"2023-08-22","value":0.54},{"station":"New Bedford","date":"2023-08-24","value":0.59},{"station":"New Bedford","date":"2023-08-26","value":0.58},{"station":"New Bedford","date":"2023-08-27","value":0.59},{"station":"New Bedford","date":"2023-08-28","value":0.61},{"station":"New Bedford","date":"2023-08-29","value":0.63},{"station":"New Bedford","date":"2023-08-31","value":0.65},{"station":"New Bedford","date":"2023-09-01","value":0.62},{"station":"New Bedford","date":"2023-09-02","value":0.66},{"station":"New Bedford","date":"2023-09-05","value":0.70},{"station":"New Bedford","date":"2023-09-06","value":0.70},{"station":"New Bedford","date":"2023-09-08","value":0.72},{"station":"New Bedford","date":"2023-09-10","value":0.76},{"station":"New Bedford","date":"2023-09-12","value":0.85},{"station":"New Bedford","date":"2023-09-14","value":0.97},{"station":"New Bedford","date":"2023-09-17","value":1.04},{"station":"New Bedford","date":"2023-09-18","value":1.06},{"station":"New Bedford","date":"2023-09-19","value":1.02},{"station":"New Bedford","date":"2023-09-21","value":0.92},{"station":"New Bedford","date":"2023-09-22","value":0.89},{"station":"New Bedford","date":"2023-09-24","value":0.85},{"station":"New Bedford","date":"2023-09-26","value":0.78},{"station":"New Bedford","date":"2023-09-27","value":0.80},{"station":"New Bedford","date":"2023-09-29","value":0.79},{"station":"New Bedford","date":"2023-09-30","value":0.82},{"station":"New Bedford","date":"2023-10-02","value":0.85},{"station":"New Bedford","date":"2023-10-04","value":0.93},{"station":"New Bedford","date":"2023-10-06","value":0.98},{"station":"New Bedford","date":"2023-10-08","value":0.97},{"station":"New Bedford","date":"2023-10-10","value":1.02},{"station":"New Bedford","date":"2023-10-12","value":1.06},{"station":"New Bedford","date":"2023-10-13","value":1.02},{"station":"New Bedford","date":"2023-10-16","value":1.02},{"station":"New Bedford","date":"2023-10-18","value":0.99},{"station":"New Bedford","date":"2023-10-20","value":1.03},{"station":"New Bedford","date":"2023-10-21","value":1.07},{"station":"New Bedford","date":"2023-10-23","value":1.14},{"station":"New Bedford","date":"2023-10-25","value":1.19},{"station":"New Bedford","date":"2023-10-27","value":1.23},{"station":"New Bedford","date":"2023-10-29","value":1.25},{"station":"New Bedford","date":"2023-10-31","value":1.28},{"station":"New Bedford","date":"2023-11-03","value":1.29},{"station":"New Bedford","date":"2023-11-05","value":1.32},{"station":"New Bedford","date":"2023-11-07","value":1.34},{"station":"New Bedford","date":"2023-11-09","value":1.36},{"station":"New Bedford","date":"2023-11-11","value":1.37},{"station":"New Bedford","date":"2023-11-13","value":1.38},
{"station":"Hyannis","date":"2023-03-01","value":0.03},{"station":"Hyannis","date":"2023-03-04","value":0.02},{"station":"Hyannis","date":"2023-03-07","value":-0.01},{"station":"Hyannis","date":"2023-03-11","value":-0.04},{"station":"Hyannis","date":"2023-03-13","value":-0.01},{"station":"Hyannis","date":"2023-03-15","value":0.04},{"station":"Hyannis","date":"2023-03-18","value":0.06},{"station":"Hyannis","date":"2023-03-19","value":0.04},{"station":"Hyannis","date":"2023-03-22","value":0.03},{"station":"Hyannis","date":"2023-03-24","value":0.00},{"station":"Hyannis","date":"2023-03-27","value":-0.04},{"station":"Hyannis","date":"2023-03-29","value":-0.08},{"station":"Hyannis","date":"2023-03-30","value":-0.04},{"station":"Hyannis","date":"2023-04-02","value":-0.01},{"station":"Hyannis","date":"2023-04-04","value":-0.03},{"station":"Hyannis","date":"2023-04-07","value":-0.13},{"station":"Hyannis","date":"2023-04-09","value":-0.07},{"station":"Hyannis","date":"2023-04-11","value":-0.10},{"station":"Hyannis","date":"2023-04-14","value":-0.15},{"station":"Hyannis","date":"2023-04-16","value":-0.06},{"station":"Hyannis","date":"2023-04-19","value":-0.11},{"station":"Hyannis","date":"2023-04-21","value":-0.17},{"station":"Hyannis","date":"2023-04-22","value":-0.16},{"station":"Hyannis","date":"2023-04-24","value":-0.12},{"station":"Hyannis","date":"2023-04-25","value":-0.08},{"station":"Hyannis","date":"2023-04-27","value":-0.04},{"station":"Hyannis","date":"2023-04-29","value":-0.06},{"station":"Hyannis","date":"2023-05-01","value":-0.08},{"station":"Hyannis","date":"2023-05-03","value":-0.13},{"station":"Hyannis","date":"2023-05-05","value":-0.17},{"station":"Hyannis","date":"2023-05-06","value":-0.18},{"station":"Hyannis","date":"2023-05-08","value":-0.18},{"station":"Hyannis","date":"2023-05-09","value":-0.17},{"station":"Hyannis","date":"2023-05-10","value":-0.18},{"station":"Hyannis","date":"2023-05-11","value":-0.25},{"station":"Hyannis","date":"2023-05-12","value":-0.25},{"station":"Hyannis","date":"2023-05-14","value":-0.15},{"station":"Hyannis","date":"2023-05-16","value":-0.19},{"station":"Hyannis","date":"2023-05-17","value":-0.21},{"station":"Hyannis","date":"2023-05-19","value":-0.28},{"station":"Hyannis","date":"2023-05-20","value":-0.38},{"station":"Hyannis","date":"2023-05-22","value":-0.33},{"station":"Hyannis","date":"2023-05-23","value":-0.29},{"station":"Hyannis","date":"2023-05-24","value":-0.30},{"station":"Hyannis","date":"2023-05-25","value":-0.18},{"station":"Hyannis","date":"2023-05-27","value":-0.16},{"station":"Hyannis","date":"2023-05-29","value":-0.18},{"station":"Hyannis","date":"2023-05-30","value":-0.22},{"station":"Hyannis","date":"2023-06-01","value":-0.13},{"station":"Hyannis","date":"2023-06-03","value":-0.02},{"station":"Hyannis","date":"2023-06-05","value":0.08},{"station":"Hyannis","date":"2023-06-08","value":0.06},{"station":"Hyannis","date":"2023-06-09","value":0.01},{"station":"Hyannis","date":"2023-06-11","value":0.05},{"station":"Hyannis","date":"2023-06-13","value":0.18},{"station":"Hyannis","date":"2023-06-16","value":0.23},{"station":"Hyannis","date":"2023-06-18","value":0.25},{"station":"Hyannis","date":"2023-06-21","value":0.33},{"station":"Hyannis","date":"2023-06-23","value":0.26},{"station":"Hyannis","date":"2023-06-24","value":0.29},{"station":"Hyannis","date":"2023-06-26","value":0.24},{"station":"Hyannis","date":"2023-06-28","value":0.27},{"station":"Hyannis","date":"2023-07-01","value":0.18},{"station":"Hyannis","date":"2023-07-03","value":0.23},{"station":"Hyannis","date":"2023-07-04","value":0.17},{"station":"Hyannis","date":"2023-07-06","value":0.11},{"station":"Hyannis","date":"2023-07-08","value":0.16},{"station":"Hyannis","date":"2023-07-10","value":0.16},{"station":"Hyannis","date":"2023-07-11","value":0.08},{"station":"Hyannis","date":"2023-07-13","value":0.01},{"station":"Hyannis","date":"2023-07-15","value":0.06},{"station":"Hyannis","date":"2023-07-17","value":0.10},{"station":"Hyannis","date":"2023-07-19","value":0.14},{"station":"Hyannis","date":"2023-07-22","value":0.20},{"station":"Hyannis","date":"2023-07-25","value":0.06},{"station":"Hyannis","date":"2023-07-27","value":0.13},{"station":"Hyannis","date":"2023-07-29","value":0.04},{"station":"Hyannis","date":"2023-07-31","value":0.01},{"station":"Hyannis","date":"2023-08-02","value":0.07},{"station":"Hyannis","date":"2023-08-04","value":0.05},{"station":"Hyannis","date":"2023-08-05","value":0.08},{"station":"Hyannis","date":"2023-08-06","value":0.02},{"station":"Hyannis","date":"2023-08-08","value":-0.06},{"station":"Hyannis","date":"2023-08-10","value":-0.09},{"station":"Hyannis","date":"2023-08-13","value":-0.02},{"station":"Hyannis","date":"2023-08-15","value":0.05},{"station":"Hyannis","date":"2023-08-17","value":0.02},{"station":"Hyannis","date":"2023-08-18","value":0.01},{"station":"Hyannis","date":"2023-08-20","value":-0.08},{"station":"Hyannis","date":"2023-08-21","value":-0.07},{"station":"Hyannis","date":"2023-08-24","value":-0.01},{"station":"Hyannis","date":"2023-08-26","value":-0.02},{"station":"Hyannis","date":"2023-08-28","value":0.02},{"station":"Hyannis","date":"2023-08-30","value":0.06},{"station":"Hyannis","date":"2023-09-01","value":0.03},{"station":"Hyannis","date":"2023-09-02","value":0.03},{"station":"Hyannis","date":"2023-09-04","value":0.08},{"station":"Hyannis","date":"2023-09-06","value":0.12},{"station":"Hyannis","date":"2023-09-07","value":0.13},{"station":"Hyannis","date":"2023-09-10","value":0.18},{"station":"Hyannis","date":"2023-09-12","value":0.24},{"station":"Hyannis","date":"2023-09-14","value":0.31},{"station":"Hyannis","date":"2023-09-17","value":0.36},{"station":"Hyannis","date":"2023-09-18","value":0.37},{"station":"Hyannis","date":"2023-09-19","value":0.33},{"station":"Hyannis","date":"2023-09-22","value":0.25},{"station":"Hyannis","date":"2023-09-23","value":0.17},{"station":"Hyannis","date":"2023-09-25","value":0.10},{"station":"Hyannis","date":"2023-09-26","value":0.08},{"station":"Hyannis","date":"2023-09-28","value":0.07},{"station":"Hyannis","date":"2023-09-30","value":0.09},{"station":"Hyannis","date":"2023-10-02","value":0.14},{"station":"Hyannis","date":"2023-10-04","value":0.23},{"station":"Hyannis","date":"2023-10-06","value":0.25},{"station":"Hyannis","date":"2023-10-08","value":0.22},{"station":"Hyannis","date":"2023-10-10","value":0.25},{"station":"Hyannis","date":"2023-10-12","value":0.29},{"station":"Hyannis","date":"2023-10-13","value":0.27},{"station":"Hyannis","date":"2023-10-16","value":0.27},{"station":"Hyannis","date":"2023-10-18","value":0.25},{"station":"Hyannis","date":"2023-10-19","value":0.28},{"station":"Hyannis","date":"2023-10-21","value":0.31},{"station":"Hyannis","date":"2023-10-23","value":0.39},{"station":"Hyannis","date":"2023-10-24","value":0.41},{"station":"Hyannis","date":"2023-10-26","value":0.44},{"station":"Hyannis","date":"2023-10-28","value":0.46},{"station":"Hyannis","date":"2023-10-30","value":0.48},{"station":"Hyannis","date":"2023-11-01","value":0.48},{"station":"Hyannis","date":"2023-11-03","value":0.47},{"station":"Hyannis","date":"2023-11-05","value":0.45},{"station":"Hyannis","date":"2023-11-07","value":0.46},{"station":"Hyannis","date":"2023-11-09","value":0.47},{"station":"Hyannis","date":"2023-11-11","value":0.48},{"station":"Hyannis","date":"2023-11-13","value":0.46},
{"station":"Vineyard Haven","date":"2023-03-01","value":0.03},{"station":"Vineyard Haven","date":"2023-03-04","value":0.01},{"station":"Vineyard Haven","date":"2023-03-07","value":-0.01},{"station":"Vineyard Haven","date":"2023-03-11","value":-0.05},{"station":"Vineyard Haven","date":"2023-03-12","value":-0.03},{"station":"Vineyard Haven","date":"2023-03-14","value":0.05},{"station":"Vineyard Haven","date":"2023-03-17","value":0.10},{"station":"Vineyard Haven","date":"2023-03-18","value":0.12},{"station":"Vineyard Haven","date":"2023-03-20","value":0.11},{"station":"Vineyard Haven","date":"2023-03-22","value":0.11},{"station":"Vineyard Haven","date":"2023-03-23","value":0.07},{"station":"Vineyard Haven","date":"2023-03-26","value":0.05},{"station":"Vineyard Haven","date":"2023-03-29","value":0.03},{"station":"Vineyard Haven","date":"2023-03-31","value":0.06},{"station":"Vineyard Haven","date":"2023-04-02","value":0.04},{"station":"Vineyard Haven","date":"2023-04-04","value":0.01},{"station":"Vineyard Haven","date":"2023-04-07","value":-0.04},{"station":"Vineyard Haven","date":"2023-04-09","value":0.04},{"station":"Vineyard Haven","date":"2023-04-11","value":0.01},{"station":"Vineyard Haven","date":"2023-04-14","value":-0.04},{"station":"Vineyard Haven","date":"2023-04-15","value":0.01},{"station":"Vineyard Haven","date":"2023-04-17","value":0.07},{"station":"Vineyard Haven","date":"2023-04-19","value":0.03},{"station":"Vineyard Haven","date":"2023-04-21","value":0.01},{"station":"Vineyard Haven","date":"2023-04-22","value":0.05},{"station":"Vineyard Haven","date":"2023-04-23","value":0.07},{"station":"Vineyard Haven","date":"2023-04-25","value":0.12},{"station":"Vineyard Haven","date":"2023-04-27","value":0.16},{"station":"Vineyard Haven","date":"2023-04-28","value":0.17},{"station":"Vineyard Haven","date":"2023-04-29","value":0.16},{"station":"Vineyard Haven","date":"2023-05-01","value":0.14},{"station":"Vineyard Haven","date":"2023-05-03","value":0.10},{"station":"Vineyard Haven","date":"2023-05-04","value":0.07},{"station":"Vineyard Haven","date":"2023-05-06","value":0.03},{"station":"Vineyard Haven","date":"2023-05-08","value":0.07},{"station":"Vineyard Haven","date":"2023-05-09","value":0.10},{"station":"Vineyard Haven","date":"2023-05-11","value":0.03},{"station":"Vineyard Haven","date":"2023-05-12","value":0.01},{"station":"Vineyard Haven","date":"2023-05-13","value":0.03},{"station":"Vineyard Haven","date":"2023-05-14","value":0.07},{"station":"Vineyard Haven","date":"2023-05-16","value":0.02},{"station":"Vineyard Haven","date":"2023-05-18","value":-0.04},{"station":"Vineyard Haven","date":"2023-05-20","value":-0.14},{"station":"Vineyard Haven","date":"2023-05-22","value":-0.08},{"station":"Vineyard Haven","date":"2023-05-23","value":-0.06},{"station":"Vineyard Haven","date":"2023-05-25","value":0.06},{"station":"Vineyard Haven","date":"2023-05-26","value":0.07},{"station":"Vineyard Haven","date":"2023-05-28","value":0.05},{"station":"Vineyard Haven","date":"2023-05-29","value":0.07},{"station":"Vineyard Haven","date":"2023-05-30","value":0.01},{"station":"Vineyard Haven","date":"2023-06-01","value":0.16},{"station":"Vineyard Haven","date":"2023-06-03","value":0.29},{"station":"Vineyard Haven","date":"2023-06-05","value":0.38},{"station":"Vineyard Haven","date":"2023-06-06","value":0.35},{"station":"Vineyard Haven","date":"2023-06-08","value":0.36},{"station":"Vineyard Haven","date":"2023-06-09","value":0.32},{"station":"Vineyard Haven","date":"2023-06-11","value":0.39},{"station":"Vineyard Haven","date":"2023-06-13","value":0.54},{"station":"Vineyard Haven","date":"2023-06-16","value":0.62},{"station":"Vineyard Haven","date":"2023-06-17","value":0.65},{"station":"Vineyard Haven","date":"2023-06-19","value":0.70},{"station":"Vineyard Haven","date":"2023-06-21","value":0.78},{"station":"Vineyard Haven","date":"2023-06-23","value":0.76},{"station":"Vineyard Haven","date":"2023-06-25","value":0.80},{"station":"Vineyard Haven","date":"2023-06-26","value":0.79},{"station":"Vineyard Haven","date":"2023-06-28","value":0.79},{"station":"Vineyard Haven","date":"2023-06-30","value":0.76},{"station":"Vineyard Haven","date":"2023-07-01","value":0.78},{"station":"Vineyard Haven","date":"2023-07-04","value":0.80},{"station":"Vineyard Haven","date":"2023-07-05","value":0.74},{"station":"Vineyard Haven","date":"2023-07-07","value":0.69},{"station":"Vineyard Haven","date":"2023-07-08","value":0.73},{"station":"Vineyard Haven","date":"2023-07-10","value":0.75},{"station":"Vineyard Haven","date":"2023-07-11","value":0.70},{"station":"Vineyard Haven","date":"2023-07-13","value":0.61},{"station":"Vineyard Haven","date":"2023-07-14","value":0.67},{"station":"Vineyard Haven","date":"2023-07-17","value":0.70},{"station":"Vineyard Haven","date":"2023-07-18","value":0.71},{"station":"Vineyard Haven","date":"2023-07-20","value":0.76},{"station":"Vineyard Haven","date":"2023-07-22","value":0.85},{"station":"Vineyard Haven","date":"2023-07-23","value":0.79},{"station":"Vineyard Haven","date":"2023-07-25","value":0.73},{"station":"Vineyard Haven","date":"2023-07-27","value":0.82},{"station":"Vineyard Haven","date":"2023-07-29","value":0.76},{"station":"Vineyard Haven","date":"2023-07-31","value":0.72},{"station":"Vineyard Haven","date":"2023-08-02","value":0.78},{"station":"Vineyard Haven","date":"2023-08-03","value":0.82},{"station":"Vineyard Haven","date":"2023-08-05","value":0.87},{"station":"Vineyard Haven","date":"2023-08-07","value":0.80},{"station":"Vineyard Haven","date":"2023-08-09","value":0.73},{"station":"Vineyard Haven","date":"2023-08-10","value":0.70},{"station":"Vineyard Haven","date":"2023-08-11","value":0.74},{"station":"Vineyard Haven","date":"2023-08-13","value":0.78},{"station":"Vineyard Haven","date":"2023-08-15","value":0.83},{"station":"Vineyard Haven","date":"2023-08-16","value":0.85},{"station":"Vineyard Haven","date":"2023-08-18","value":0.80},{"station":"Vineyard Haven","date":"2023-08-20","value":0.74},{"station":"Vineyard Haven","date":"2023-08-21","value":0.73},{"station":"Vineyard Haven","date":"2023-08-22","value":0.76},{"station":"Vineyard Haven","date":"2023-08-23","value":0.80},{"station":"Vineyard Haven","date":"2023-08-25","value":0.85},{"station":"Vineyard Haven","date":"2023-08-26","value":0.87},{"station":"Vineyard Haven","date":"2023-08-28","value":0.91},{"station":"Vineyard Haven","date":"2023-08-29","value":0.93},{"station":"Vineyard Haven","date":"2023-08-31","value":0.96},{"station":"Vineyard Haven","date":"2023-09-01","value":0.94},{"station":"Vineyard Haven","date":"2023-09-02","value":0.93},{"station":"Vineyard Haven","date":"2023-09-03","value":0.97},{"station":"Vineyard Haven","date":"2023-09-05","value":1.03},{"station":"Vineyard Haven","date":"2023-09-07","value":1.02},{"station":"Vineyard Haven","date":"2023-09-08","value":1.04},{"station":"Vineyard Haven","date":"2023-09-10","value":1.08},{"station":"Vineyard Haven","date":"2023-09-12","value":1.17},{"station":"Vineyard Haven","date":"2023-09-14","value":1.25},{"station":"Vineyard Haven","date":"2023-09-17","value":1.32},{"station":"Vineyard Haven","date":"2023-09-18","value":1.29},{"station":"Vineyard Haven","date":"2023-09-20","value":1.21},{"station":"Vineyard Haven","date":"2023-09-22","value":1.14},{"station":"Vineyard Haven","date":"2023-09-24","value":1.07},{"station":"Vineyard Haven","date":"2023-09-26","value":1.02},{"station":"Vineyard Haven","date":"2023-09-27","value":1.00},{"station":"Vineyard Haven","date":"2023-09-29","value":1.02},{"station":"Vineyard Haven","date":"2023-09-30","value":1.04},{"station":"Vineyard Haven","date":"2023-10-01","value":1.03},{"station":"Vineyard Haven","date":"2023-10-03","value":1.08},{"station":"Vineyard Haven","date":"2023-10-06","value":1.15},{"station":"Vineyard Haven","date":"2023-10-08","value":1.14},{"station":"Vineyard Haven","date":"2023-10-09","value":1.17},{"station":"Vineyard Haven","date":"2023-10-11","value":1.20},{"station":"Vineyard Haven","date":"2023-10-12","value":1.23},{"station":"Vineyard Haven","date":"2023-10-14","value":1.18},{"station":"Vineyard Haven","date":"2023-10-16","value":1.21},{"station":"Vineyard Haven","date":"2023-10-18","value":1.19},{"station":"Vineyard Haven","date":"2023-10-20","value":1.23},{"station":"Vineyard Haven","date":"2023-10-21","value":1.28},{"station":"Vineyard Haven","date":"2023-10-23","value":1.34},{"station":"Vineyard Haven","date":"2023-10-25","value":1.38},{"station":"Vineyard Haven","date":"2023-10-27","value":1.40},{"station":"Vineyard Haven","date":"2023-10-29","value":1.41},{"station":"Vineyard Haven","date":"2023-10-30","value":1.43},{"station":"Vineyard Haven","date":"2023-11-01","value":1.45},{"station":"Vineyard Haven","date":"2023-11-04","value":1.45},{"station":"Vineyard Haven","date":"2023-11-06","value":1.48},{"station":"Vineyard Haven","date":"2023-11-08","value":1.51},{"station":"Vineyard Haven","date":"2023-11-10","value":1.51},{"station":"Vineyard Haven","date":"2023-11-12","value":1.52},{"station":"Vineyard Haven","date":"2023-11-13","value":1.50}
]},
"layer":[
{"data":{"values":[{}]},
 "mark":{"type":"rect","fill":null,"stroke":"#66773a","strokeWidth":2},
 "encoding":{
  "x":{"datum":{"year":2023,"month":2,"date":3,"hours":13,"utc":true},"type":"temporal","scale":{"type":"utc"}},
  "x2":{"datum":{"year":2023,"month":11,"date":20,"hours":0,"utc":true}},
  "y":{"datum":-2.17,"type":"quantitative"},
  "y2":{"datum":2.4}
 }},
{"data":{"values":[{}]},
 "mark":{"type":"rule","color":"#3a8a2a","strokeWidth":2.5},
 "encoding":{"y":{"datum":0,"type":"quantitative"}}},
{"mark":{"type":"line","strokeWidth":3.6,"strokeJoin":"round","strokeCap":"round"},
 "encoding":{
  "x":{"field":"date","type":"temporal",
   "scale":{"type":"utc","domain":[{"year":2023,"month":2,"date":26,"hours":12,"utc":true},{"year":2023,"month":11,"date":15,"hours":12,"utc":true}]},
   "axis":{"title":null,"tickCount":{"interval":"month","step":1},"format":"%b %d",
    "domainColor":"#3a8a2a","domainWidth":2.5,
    "tickColor":"#444444","tickSize":23,"tickWidth":2,
    "labelFontSize":32,"labelColor":"#3f4b25","labelPadding":20,"labelFlush":false,"labelOverlap":false,
    "grid":true,"gridColor":"#cde9c6","gridWidth":1.5}},
  "y":{"field":"value","type":"quantitative",
   "scale":{"domain":[-1,2],"nice":false,"zero":false},
   "axis":{"title":"Accumulated Departure (inches)","titleFontSize":37.5,"titleFontWeight":"normal","titleColor":"#4a5a2a","titlePadding":19,
    "values":[-1,-0.8,-0.6,-0.4,-0.2,0,0.2,0.4,0.6,0.8,1,1.2,1.4,1.6,1.8,2],
    "labelExpr":"abs(datum.value - round(datum.value)) < 0.001 ? ('' + round(datum.value)) : ''",
    "domain":false,"tickColor":"#9a9a9a","tickSize":5,"tickWidth":1.5,
    "labelFontSize":32,"labelColor":"#3f4b25","labelPadding":9,
    "grid":true,
    "gridColor":{"condition":{"test":"abs(datum.value - round(datum.value)) < 0.001","value":"#cde9c6"},"value":"#d6d6d6"},
    "gridDash":{"condition":{"test":"abs(datum.value - round(datum.value)) < 0.001","value":[]},"value":[2,9]},
    "gridWidth":1.5}},
  "color":{"field":"station","type":"nominal",
   "scale":{"domain":["Pittsfield","Westover","Worcester","Boston","New Bedford","Hyannis","Vineyard Haven"],
    "range":["#63aee9","#333333","#72e06b","#f99d4f","#7a7cee","#ef4a71","#e2c941"]},
   "legend":{"title":null,"orient":"none","legendX":17,"legendY":863,"direction":"horizontal","columns":4,"gridAlign":"all",
    "symbolType":"stroke","symbolSize":1600,"symbolStrokeWidth":5,
    "labelFontSize":37.7,"labelColor":"#3f4b25","labelOffset":11,"labelLimit":500,
    "columnPadding":32,"rowPadding":12,"padding":0}}
 }}
]
}
